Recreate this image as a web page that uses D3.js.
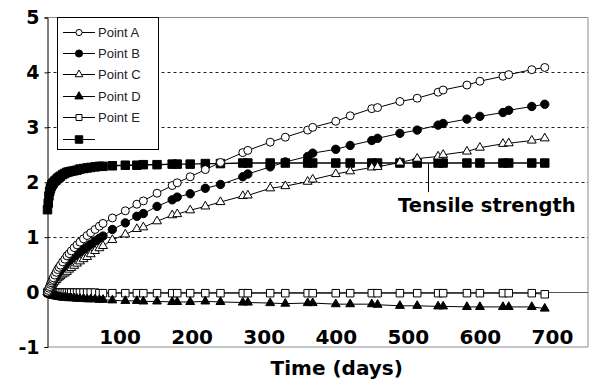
<!DOCTYPE html>
<html>
<head>
<meta charset="utf-8">
<script src="https://cdn.jsdelivr.net/npm/d3@7/dist/d3.min.js"></script>
<style>
  html, body { margin: 0; padding: 0; background: #fff; }
  svg { display: block; }
</style>
</head>
<body>
<svg id="chart" width="589" height="383"></svg>
<script>
// Measurement days shared by every series
const days = [0, 1, 2, 3, 4, 5, 6, 7, 8,
  10, 12, 14, 16, 18,
  21, 24, 27, 30, 33,
  37, 41, 45, 50, 55,
  60, 66, 72, 77,
  90, 108, 124, 133, 152,
  173, 180, 198, 219, 240,
  271, 278, 309, 330, 361,
  368, 400, 420, 450, 458,
  489, 513, 542, 549, 582,
  600, 632, 640, 672, 690];

const pointA = [0, 0.03, 0.07, 0.1, 0.14, 0.17, 0.2, 0.23, 0.26,
  0.31, 0.36, 0.41, 0.45, 0.49,
  0.55, 0.6, 0.66, 0.7, 0.75,
  0.81, 0.86, 0.91, 0.97, 1.03,
  1.08, 1.14, 1.2, 1.25,
  1.35, 1.48, 1.6, 1.66, 1.8,
  1.94, 1.99, 2.1, 2.23, 2.36,
  2.54, 2.58, 2.73, 2.82, 2.95,
  3.0, 3.11, 3.21, 3.34, 3.36,
  3.47, 3.53, 3.64, 3.68, 3.77,
  3.84, 3.93, 3.96, 4.05, 4.09];

const pointB = [0, 0.02, 0.05, 0.08, 0.11, 0.13, 0.16, 0.18, 0.21,
  0.25, 0.29, 0.33, 0.37, 0.4,
  0.45, 0.5, 0.54, 0.58, 0.62,
  0.66, 0.7, 0.73, 0.78, 0.82,
  0.87, 0.93, 0.98, 1.02,
  1.14, 1.26, 1.38, 1.43, 1.56,
  1.68, 1.73, 1.79, 1.89, 1.96,
  2.1, 2.15, 2.28, 2.37, 2.47,
  2.53, 2.6, 2.67, 2.76, 2.8,
  2.89, 2.95, 3.04, 3.07, 3.15,
  3.2, 3.27, 3.31, 3.38, 3.42];

const pointC = [0, 0.02, 0.04, 0.06, 0.08, 0.1, 0.12, 0.14, 0.16,
  0.19, 0.22, 0.25, 0.27, 0.29,
  0.32, 0.34, 0.37, 0.41, 0.44,
  0.48, 0.52, 0.56, 0.6, 0.64,
  0.69, 0.75, 0.8, 0.84,
  0.95, 1.05, 1.15, 1.18, 1.29,
  1.4, 1.42, 1.49, 1.56, 1.64,
  1.75, 1.76, 1.89, 1.93, 2.01,
  2.05, 2.15, 2.2, 2.27, 2.28,
  2.36, 2.43, 2.47, 2.5, 2.56,
  2.63, 2.7, 2.71, 2.76, 2.8];

const pointD = [0, -0.02, -0.03, -0.04, -0.05, -0.05, -0.06, -0.06, -0.07,
  -0.07, -0.08, -0.08, -0.09, -0.09,
  -0.1, -0.1, -0.1, -0.11, -0.11,
  -0.11, -0.12, -0.12, -0.12, -0.13,
  -0.13, -0.13, -0.14, -0.14,
  -0.15, -0.16, -0.16, -0.17, -0.17,
  -0.18, -0.18, -0.18, -0.17, -0.18,
  -0.19, -0.19, -0.2, -0.21, -0.2,
  -0.2, -0.22, -0.22, -0.22, -0.23,
  -0.25, -0.25, -0.26, -0.26, -0.27,
  -0.27, -0.27, -0.27, -0.27, -0.3];

const pointE = [0, -0.01, -0.01, -0.01, -0.01, -0.01, -0.01, -0.01, -0.01,
  -0.01, -0.01, -0.01, -0.01, -0.01,
  -0.01, -0.01, -0.01, -0.01, -0.01,
  -0.01, -0.01, -0.01, -0.01, -0.01,
  -0.01, -0.01, -0.02, -0.02,
  -0.02, -0.02, -0.02, -0.02, -0.02,
  -0.02, -0.02, -0.02, -0.02, -0.02,
  -0.02, -0.02, -0.02, -0.02, -0.02,
  -0.02, -0.02, -0.02, -0.02, -0.02,
  -0.02, -0.02, -0.02, -0.02, -0.02,
  -0.02, -0.02, -0.02, -0.02, -0.04];

const tensile = [1.5, 1.62, 1.75, 1.83, 1.88, 1.92, 1.95, 1.97, 1.99,
  2.02, 2.04, 2.07, 2.09, 2.11,
  2.14, 2.16, 2.18, 2.19, 2.2,
  2.21, 2.22, 2.24, 2.25, 2.26,
  2.27, 2.28, 2.29, 2.29,
  2.3, 2.31, 2.31, 2.32, 2.32,
  2.33, 2.33, 2.33, 2.34, 2.34,
  2.35, 2.35, 2.35, 2.35, 2.35,
  2.35, 2.35, 2.35, 2.35, 2.35,
  2.35, 2.35, 2.35, 2.35, 2.35,
  2.35, 2.35, 2.35, 2.35, 2.35];

const seriesNames = ["Point A", "Point B", "Point C", "Point D", "Point E", ""];
const xTicks = [100, 200, 300, 400, 500, 600, 700];
const yTicks = [-1, 0, 1, 2, 3, 4, 5];
const gridValues = [1, 2, 3, 4];
const annotationText = "Tensile strength";
const annotationDay = 528;
const annotationLow = 1.82;
const xTitle = "Time (days)";

const svg = d3.select("#chart");
const plotLeft = 47.5, plotRight = 588, plotTop = 17.5, plotBottom = 347;

const x = d3.scaleLinear().domain([0, 750]).range([plotLeft, plotRight]);
const y = d3.scaleLinear().domain([-1, 5]).range([plotBottom, plotTop]);

const bold = "'DejaVu Sans', Verdana, sans-serif";

// frame
svg.append("path")
  .attr("d", `M${plotLeft},${plotTop}H${plotRight}V${plotBottom}H${plotLeft}`)
  .attr("fill", "none").attr("stroke", "#8c8c8c").attr("stroke-width", 1);

// dashed gridlines
svg.append("g").selectAll("line").data(gridValues).join("line")
  .attr("x1", plotLeft).attr("x2", plotRight)
  .attr("y1", d => Math.round(y(d)) + 0.5).attr("y2", d => Math.round(y(d)) + 0.5)
  .attr("stroke", "#222").attr("stroke-width", 1).attr("stroke-dasharray", "3,3");

// zero line
svg.append("line")
  .attr("x1", plotLeft).attr("x2", plotRight)
  .attr("y1", Math.round(y(0)) + 0.5).attr("y2", Math.round(y(0)) + 0.5)
  .attr("stroke", "#555").attr("stroke-width", 1);

// y axis
const yAxis = d3.axisLeft(y).tickValues(yTicks).tickSize(3).tickFormat(d => String(d));
const gy = svg.append("g").attr("transform", `translate(${plotLeft},0)`).call(yAxis);
gy.select(".domain").attr("stroke", "#000");
gy.selectAll(".tick line").attr("stroke", "#000");
gy.selectAll(".tick text")
  .attr("x", -8)
  .attr("font-family", bold).attr("font-weight", "bold").attr("font-size", "19px")
  .attr("fill", "#000");

// x tick labels, placed just above the bottom edge
const gx = svg.append("g").attr("transform", `translate(0,${plotBottom})`)
  .call(d3.axisBottom(x).tickValues(xTicks).tickSize(0).tickFormat(d => String(d)));
gx.select(".domain").remove();
gx.selectAll(".tick text")
  .attr("y", -3).attr("dy", 0)
  .attr("font-family", bold).attr("font-weight", "bold").attr("font-size", "20px")
  .attr("fill", "#000");

// x axis title
svg.append("text")
  .attr("x", (x(0) + plotRight) / 2 + 19).attr("y", 375)
  .attr("text-anchor", "middle")
  .attr("font-family", bold).attr("font-weight", "bold").attr("font-size", "20px")
  .text(xTitle);

// marker definitions
const sym = (type, size) => d3.symbol().type(type).size(size)();
const markers = [
  { values: pointA, shape: sym(d3.symbolCircle, 50), fill: "#fff", legend: sym(d3.symbolCircle, 30) },
  { values: pointB, shape: sym(d3.symbolCircle, 55), fill: "#000", legend: sym(d3.symbolCircle, 40) },
  { values: pointC, shape: sym(d3.symbolTriangle, 34), fill: "#fff", legend: sym(d3.symbolTriangle, 26) },
  { values: pointD, shape: sym(d3.symbolTriangle, 34), fill: "#000", legend: sym(d3.symbolTriangle, 30) },
  { values: pointE, shape: sym(d3.symbolSquare, 56), fill: "#fff", legend: sym(d3.symbolSquare, 36) },
  { values: tensile, shape: sym(d3.symbolSquare, 72), fill: "#000", legend: sym(d3.symbolSquare, 56) }
];

const line = d3.line().x(d => x(d[0])).y(d => y(d[1]));

// draw tensile strength first, then points E..A on top
const drawOrder = [5, 4, 3, 2, 1, 0];
drawOrder.forEach(i => {
  const m = markers[i];
  const pts = days.map((d, k) => [d, m.values[k]]);
  const g = svg.append("g");
  g.append("path").attr("d", line(pts))
    .attr("fill", "none").attr("stroke", "#000").attr("stroke-width", i === 5 ? 1.4 : 1);
  g.selectAll("path.m").data(pts).join("path").attr("class", "m")
    .attr("transform", d => `translate(${x(d[0])},${y(d[1])})`)
    .attr("d", m.shape)
    .attr("fill", m.fill).attr("stroke", "#000").attr("stroke-width", 1);
});

// annotation
svg.append("line")
  .attr("x1", Math.round(x(annotationDay)) + 0.5).attr("x2", Math.round(x(annotationDay)) + 0.5)
  .attr("y1", y(2.35) + 1).attr("y2", y(annotationLow))
  .attr("stroke", "#000").attr("stroke-width", 1);
svg.append("text")
  .attr("x", 398).attr("y", 212)
  .attr("font-family", bold).attr("font-weight", "bold").attr("font-size", "19.5px")
  .text(annotationText);

// legend
const lg = svg.append("g");
lg.append("rect").attr("x", 57.5).attr("y", 17.5).attr("width", 101).attr("height", 132)
  .attr("fill", "#fff").attr("stroke", "#000").attr("stroke-width", 1);
const rowY = [32, 53, 74, 96, 117, 139];
markers.forEach((m, i) => {
  const row = lg.append("g").attr("transform", `translate(0,${rowY[i]})`);
  row.append("line").attr("x1", 63).attr("x2", 95).attr("y1", 0.5).attr("y2", 0.5)
    .attr("stroke", "#000").attr("stroke-width", 1);
  row.append("path").attr("d", m.legend).attr("transform", "translate(79,0.5)")
    .attr("fill", m.fill).attr("stroke", "#000").attr("stroke-width", 1);
  if (seriesNames[i]) {
    row.append("text").attr("x", 98).attr("y", 5)
      .attr("font-family", "'Liberation Sans', Arial, sans-serif").attr("font-size", "13px")
      .attr("fill", "#222")
      .text(seriesNames[i]);
  }
});
</script>
</body>
</html>
